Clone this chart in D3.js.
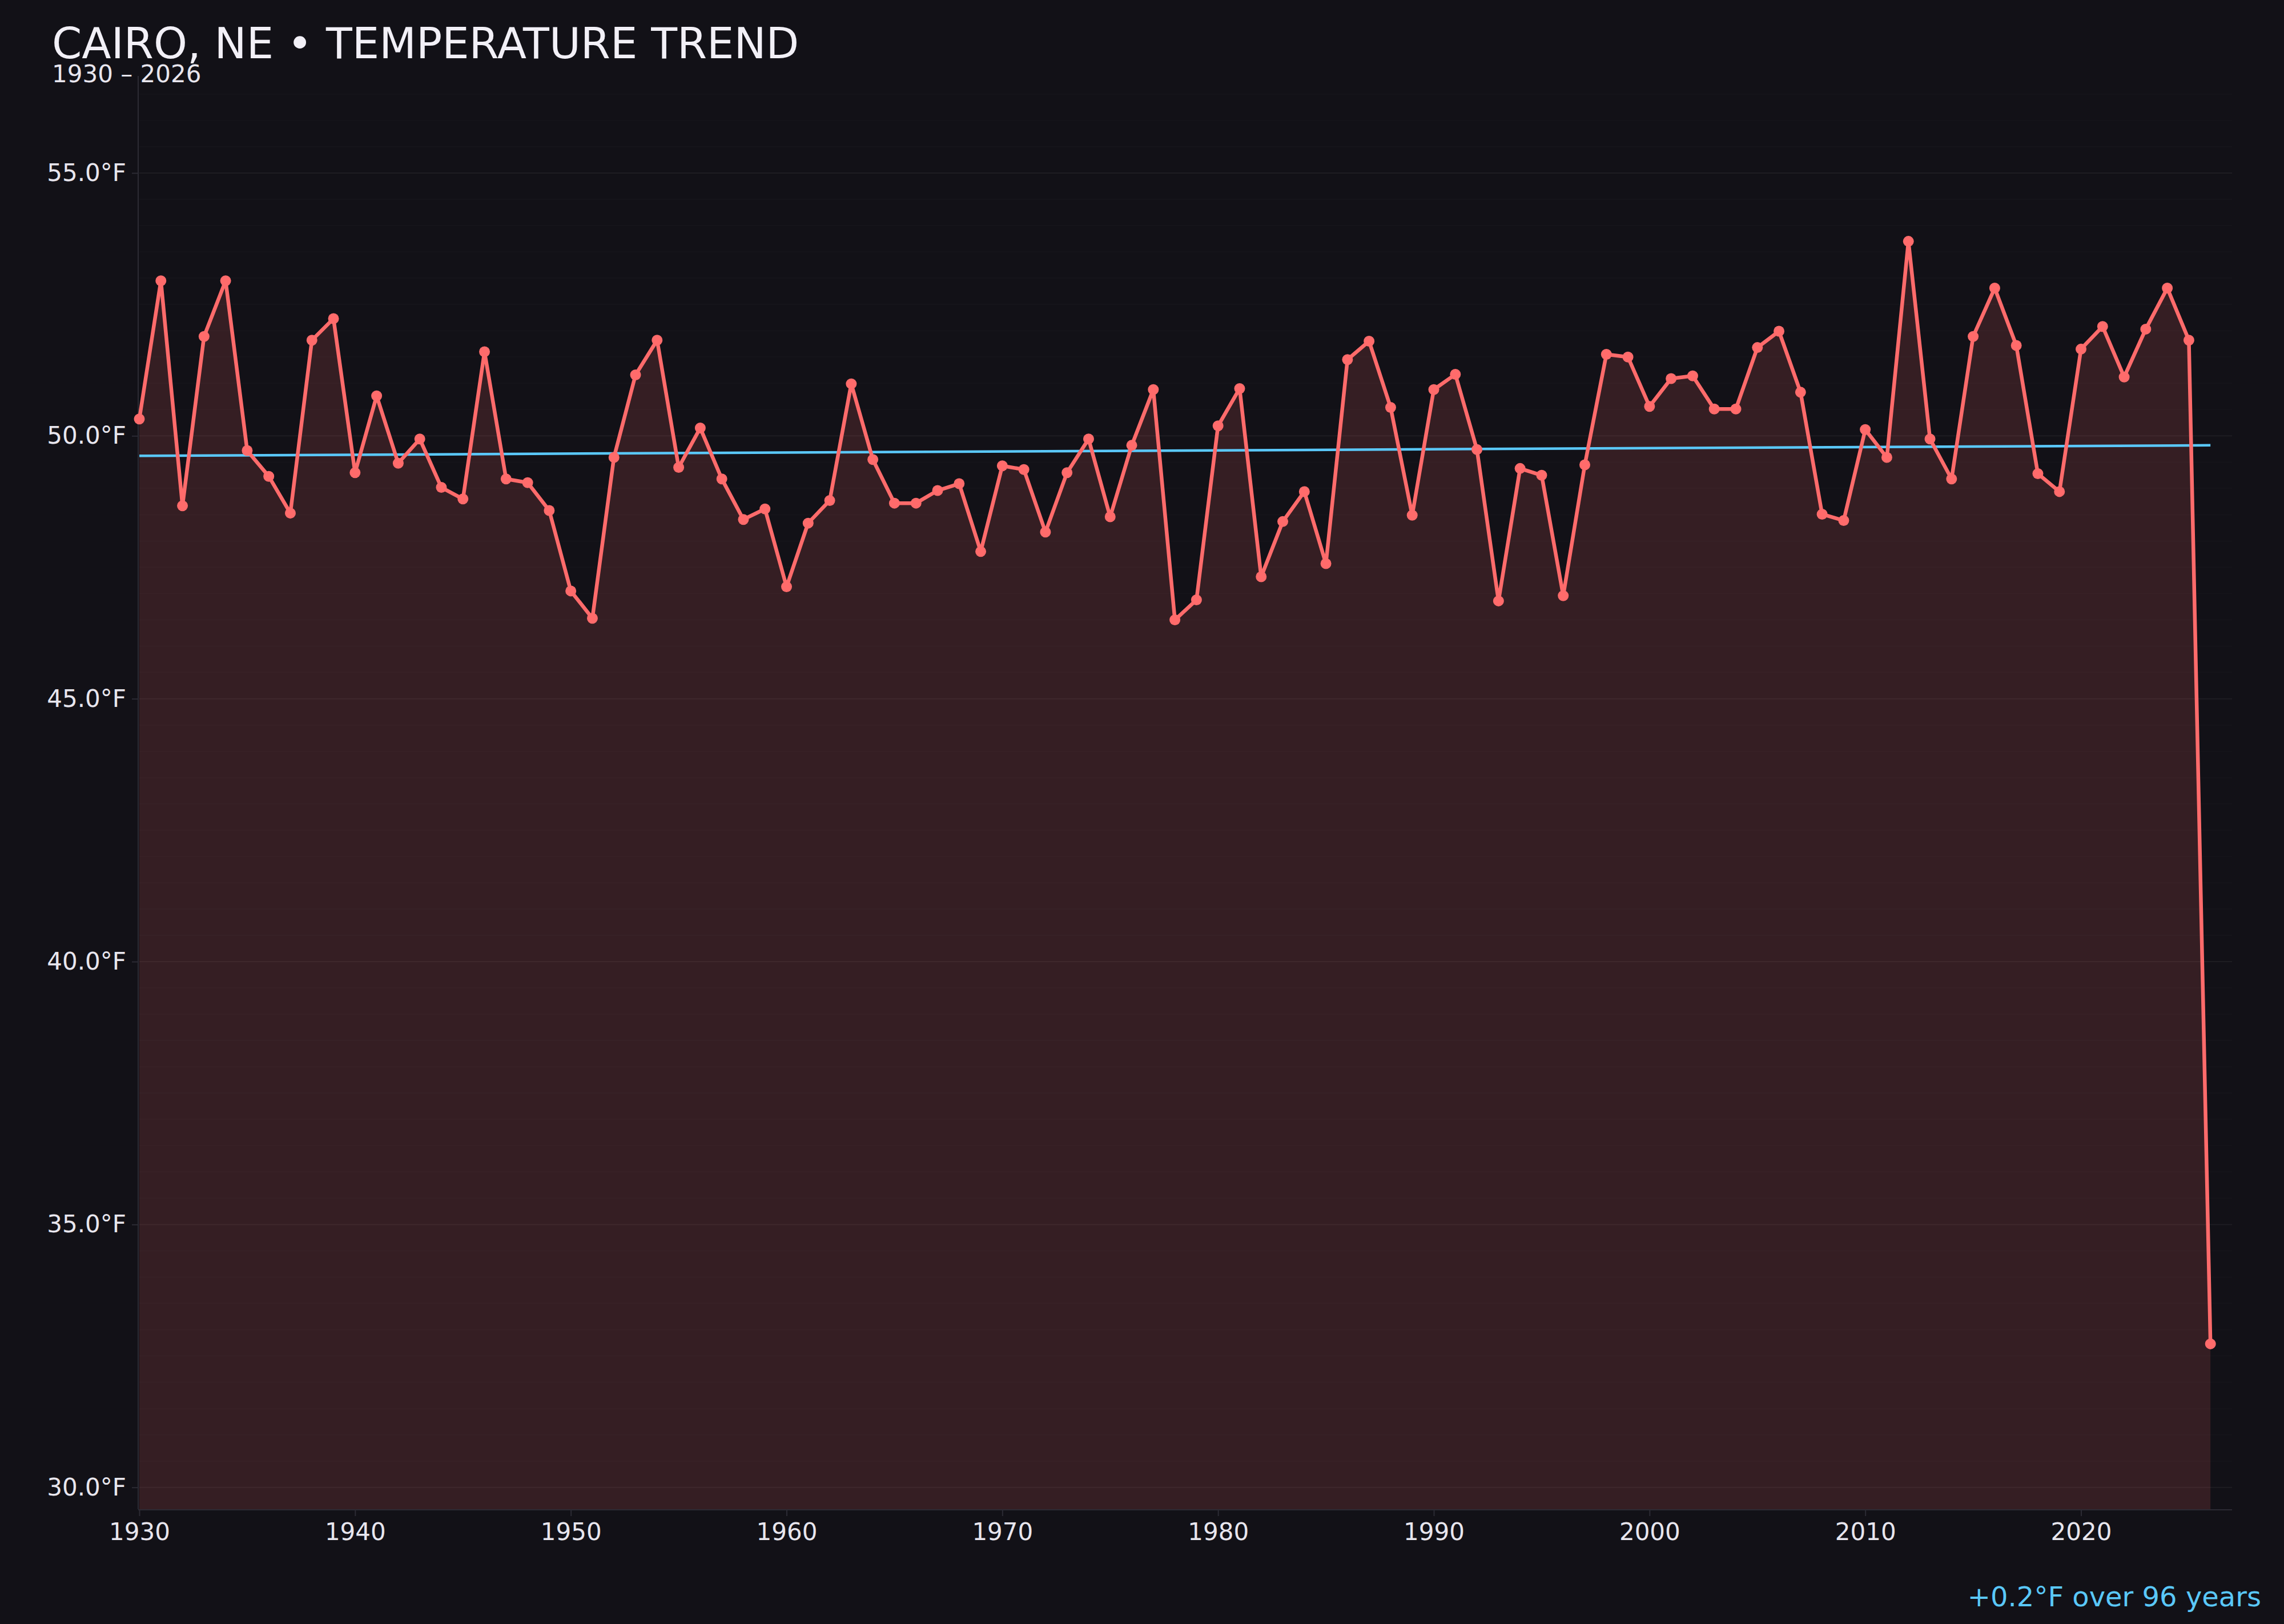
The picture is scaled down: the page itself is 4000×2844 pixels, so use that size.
<!DOCTYPE html>
<html>
<head>
<meta charset="utf-8">
<script src="https://cdn.jsdelivr.net/npm/d3@7"></script>
<style>
  html, body { margin: 0; padding: 0; background: #121117; }
  svg { display: block; font-family: 'DejaVu Sans', sans-serif; }
</style>
</head>
<body>
<svg id="chart"></svg>
<script>
// Annual mean temperature, Cairo NE
const years = d3.range(1930, 2027);
const temps = [
  50.32, 52.95, 48.67, 51.89, 52.95, 49.72, 49.23, 48.53, 51.82, 52.23,
  49.30, 50.76, 49.48, 49.94, 49.02, 48.80, 51.60, 49.18, 49.11, 48.58,
  47.05, 46.53, 49.59, 51.16, 51.82, 49.40, 50.15, 49.18, 48.41, 48.61,
  47.13, 48.34, 48.77, 50.99, 49.55, 48.72, 48.72, 48.96, 49.09, 47.80,
  49.43, 49.36, 48.17, 49.30, 49.94, 48.46, 49.82, 50.88, 46.50, 46.88,
  50.19, 50.90, 47.32, 48.37, 48.94, 47.57, 51.45, 51.80, 50.54, 48.49,
  50.88, 51.17, 49.74, 46.86, 49.38, 49.25, 46.96, 49.45, 51.55, 51.50,
  50.56, 51.09, 51.14, 50.51, 50.51, 51.68, 51.99, 50.83, 48.51, 48.39,
  50.12, 49.59, 53.70, 49.94, 49.18, 51.89, 52.81, 51.72, 49.28, 48.94,
  51.65, 52.08, 51.12, 52.03, 52.81, 51.82, 32.73
];
const trendYears = [1930, 2026];
const trendTemps = [49.62, 49.82];
const yTickValues = [30, 35, 40, 45, 50, 55];
const xTickValues = [1930, 1940, 1950, 1960, 1970, 1980, 1990, 2000, 2010, 2020];

const data = years.map((yr, i) => ({ year: yr, temp: temps[i] }));
const trend = trendYears.map((yr, i) => ({ year: yr, temp: trendTemps[i] }));

const W = 4000, H = 2844;
const margin = { top: 133, right: 91, bottom: 201, left: 244 };
const innerW = W - margin.left - margin.right;
const innerH = H - margin.top - margin.bottom;

const svg = d3.select('#chart').attr('width', W).attr('height', H);
svg.append('rect').attr('width', W).attr('height', H).attr('fill', '#121117');

// title
svg.append('text')
  .attr('x', 91).attr('y', 102)
  .attr('fill', '#f2f0f7')
  .style('font-size', '75px')
  .text('CAIRO, NE \u2022 TEMPERATURE TREND');

svg.append('text')
  .attr('x', 91).attr('y', 144)
  .attr('fill', '#e8e6ee')
  .style('font-size', '42px')
  .text('1930 \u2013 2026');

const g = svg.append('g').attr('transform', `translate(${margin.left},${margin.top})`);

const x = d3.scaleLinear().domain([1930, 2027]).range([0, innerW]);

const [tMin, tMax] = d3.extent(temps);
const pad = (tMax - tMin) * 0.15;
const y = d3.scaleLinear().domain([tMin - pad, tMax + pad]).range([innerH, 0]);

// faint grid every 0.5°F, a bit stronger on the labelled ticks
const minor = d3.range(Math.ceil(y.domain()[0] * 2) / 2, y.domain()[1], 0.5);
g.append('g')
  .selectAll('line')
  .data(minor)
  .enter()
  .append('line')
  .attr('x1', 0).attr('x2', innerW)
  .attr('y1', d => y(d)).attr('y2', d => y(d))
  .attr('stroke', '#ffffff')
  .attr('stroke-opacity', d => d % 5 === 0 ? 0.05 : 0.016)
  .attr('stroke-width', 2);

// area fill
const area = d3.area()
  .x(d => x(d.year))
  .y0(innerH)
  .y1(d => y(d.temp));

g.append('path')
  .datum(data)
  .attr('fill', '#ff6b6b')
  .attr('fill-opacity', 0.15)
  .attr('d', area);

// axes
const yAxis = g.append('g')
  .attr('transform', 'translate(-2,0)')
  .call(d3.axisLeft(y).tickValues(yTickValues).tickSize(11).tickPadding(10)
    .tickFormat(d => d.toFixed(1) + '\u00b0F'));

const xAxis = g.append('g')
  .attr('transform', `translate(0,${innerH + 1})`)
  .call(d3.axisBottom(x).tickValues(xTickValues).tickSize(11).tickPadding(12)
    .tickFormat(d3.format('d')));

[yAxis, xAxis].forEach(ax => {
  ax.select('.domain').attr('stroke', '#2c2b34').attr('stroke-width', 2);
  ax.selectAll('.tick line').attr('stroke', '#2c2b34').attr('stroke-width', 2);
  ax.selectAll('.tick text')
    .attr('fill', '#e8e6ee')
    .style('font-size', '42px')
    .style('font-family', "'DejaVu Sans', sans-serif");
});
yAxis.select('.domain').attr('d', `M0,0V${innerH}`);
xAxis.select('.domain').attr('d', `M-2,0H${innerW}`);

// trend line
const line = d3.line()
  .x(d => x(d.year))
  .y(d => y(d.temp));

g.append('path')
  .datum(trend)
  .attr('fill', 'none')
  .attr('stroke', '#5ac8fa')
  .attr('stroke-width', 4.5)
  .attr('d', line);

// temperature line + dots
g.append('path')
  .datum(data)
  .attr('fill', 'none')
  .attr('stroke', '#ff6b6b')
  .attr('stroke-width', 6.5)
  .attr('stroke-linejoin', 'round')
  .attr('d', line);

g.selectAll('.dot')
  .data(data)
  .enter()
  .append('circle')
  .attr('class', 'dot')
  .attr('cx', d => x(d.year))
  .attr('cy', d => y(d.temp))
  .attr('r', 9.5)
  .attr('fill', '#ff6b6b');

// change annotation
const change = trendTemps[1] - trendTemps[0];
svg.append('text')
  .attr('x', 3960).attr('y', 2813)
  .attr('text-anchor', 'end')
  .attr('fill', '#5ac8fa')
  .style('font-size', '48px')
  .text(`+${change.toFixed(1)}\u00b0F over ${trendYears[1] - trendYears[0]} years`);
</script>
</body>
</html>
